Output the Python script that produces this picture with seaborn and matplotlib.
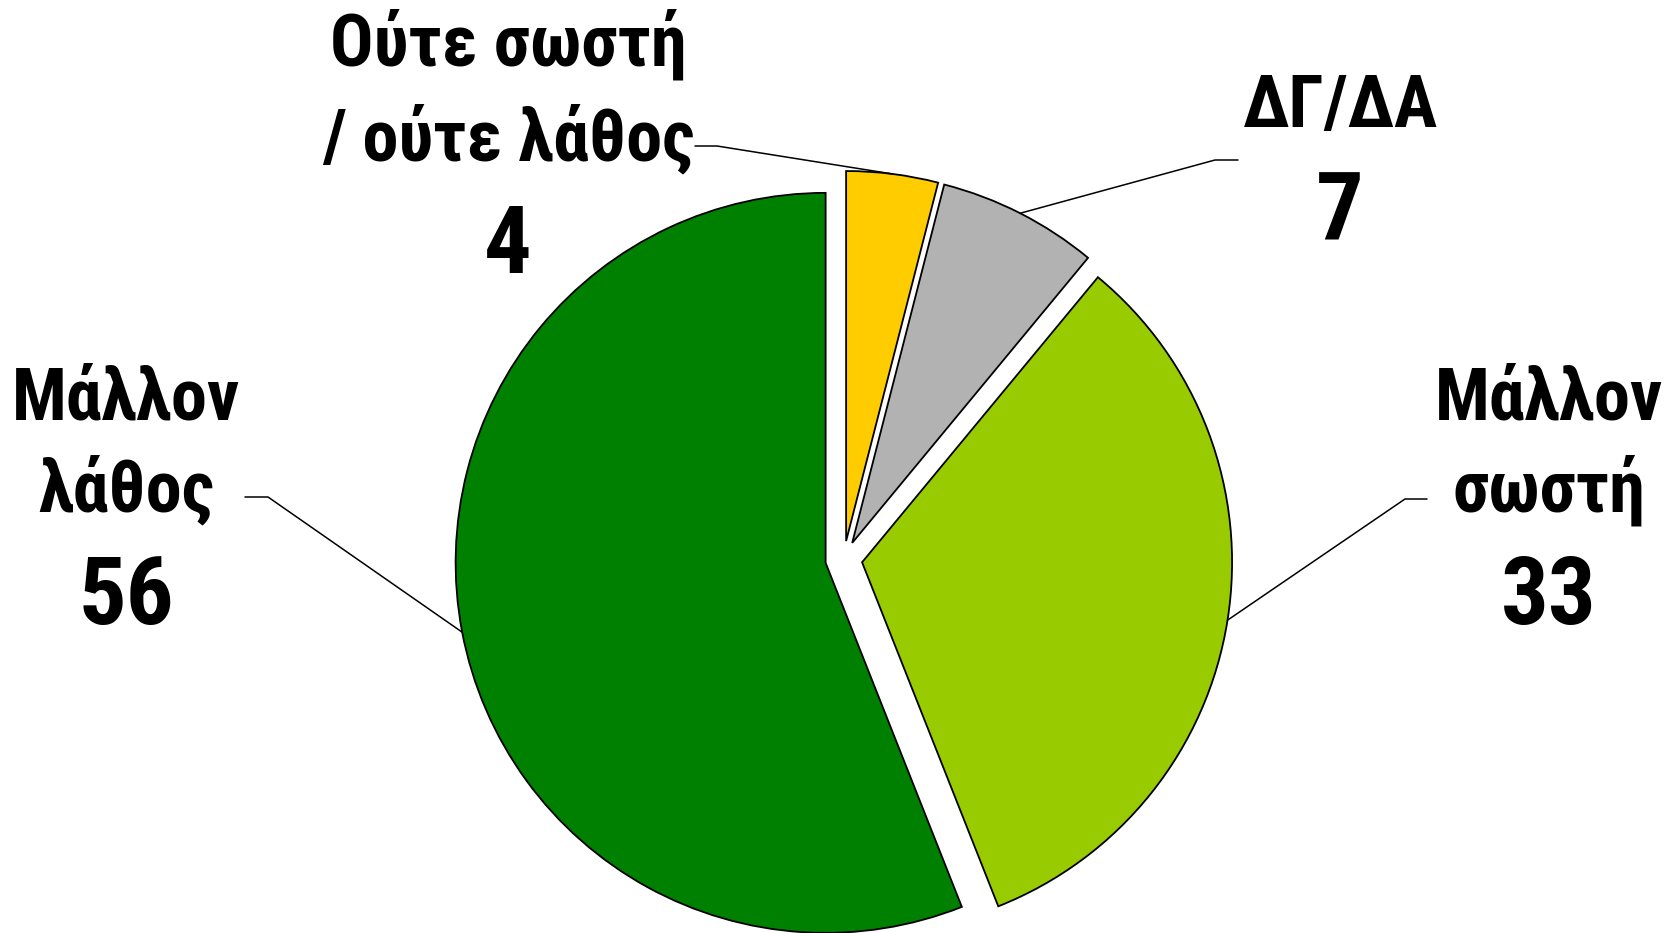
import numpy as np
import matplotlib.pyplot as plt
import seaborn as sns
from matplotlib import font_manager, ft2font

# slices, clockwise from 12 o'clock
labels = ['Ούτε σωστή\n/ ούτε λάθος', 'ΔΓ/ΔΑ', 'Μάλλον\nσωστή', 'Μάλλον\nλάθος']
values = [4, 7, 33, 56]
colors = ['#FFCC00', '#B2B2B2', '#99CC00', '#008000']

sns.set_theme(style='white')


def has_glyphs(name, text):
    # a narrow bold face that really covers the greek letters
    try:
        path = font_manager.findfont(font_manager.FontProperties(family=name, weight='bold'),
                                     fallback_to_default=False)
    except ValueError:
        return False
    ft = ft2font.FT2Font(path)
    if name.lower() not in ft.family_name.lower():
        return False
    return all(ft.get_char_index(ord(c)) for c in text if not c.isspace())


all_text = ''.join(labels) + '0123456789'
narrow = ['Liberation Sans Narrow', 'Arial Narrow', 'Roboto Condensed', 'Fira Sans Condensed',
          'PT Sans Narrow', 'Open Sans Condensed', 'IBM Plex Sans Condensed', 'Encode Sans Condensed']
fam = [f for f in narrow if has_glyphs(f, all_text)][:1] + ['Liberation Sans', 'DejaVu Sans']
plt.rcParams['font.family'] = fam
scale = 1.0 if fam[0] != 'Liberation Sans' else 0.85

W, H = 1670, 933
R = 370.0              # pie radius in pixels
CX, CY = 843.8, 559.4  # pie centre in pixels (y down)


def to_data(px, py):
    return (px - CX) / R, (CY - py) / R


fig = plt.figure(figsize=(W / 100, H / 100), dpi=100)
ax = fig.add_axes([0, 0, 1, 1])
wedges, _ = ax.pie(values, colors=colors, startangle=90, counterclock=False,
                   explode=[0.05] * len(values), radius=1,
                   wedgeprops=dict(edgecolor='black', linewidth=1.3))
ax.set_xlim(-CX / R, (W - CX) / R)
ax.set_ylim((CY - H) / R, CY / R)
ax.set_aspect('equal')
ax.axis('off')

# label layout in pixels: centre x, text baselines, number baseline, leader end, elbow
layout = [
    dict(x=508, lines=[66, 160], num=273, end=(695, 146), elbow=(717, 146)),
    dict(x=1340, lines=[127], num=240, end=(1238, 160), elbow=(1215, 160)),
    dict(x=1549, lines=[419, 511], num=624, end=(1427, 499), elbow=(1405, 499)),
    dict(x=126, lines=[419, 511], num=624, end=(245, 497), elbow=(268, 497)),
]

for w, lab, val, lay in zip(wedges, labels, values, layout):
    for line, by in zip(lab.split('\n'), lay['lines']):
        tx, ty = to_data(lay['x'], by)
        ax.text(tx, ty, line, ha='center', va='baseline', fontsize=52 * scale,
                fontweight='bold', color='black')
    tx, ty = to_data(lay['x'], lay['num'])
    ax.text(tx, ty, str(val), ha='center', va='baseline', fontsize=68 * scale,
            fontweight='bold', color='black')

    # leader line: from label, short horizontal, then to the middle of the arc
    tm = np.radians((w.theta1 + w.theta2) / 2)
    axx = w.center[0] + w.r * np.cos(tm)
    axy = w.center[1] + w.r * np.sin(tm)
    ex, ey = to_data(*lay['end'])
    bx, by = to_data(*lay['elbow'])
    ax.plot([ex, bx, axx], [ey, by, axy], color='black', lw=1.1)

fig.savefig('out.png', dpi=100, facecolor='white')
